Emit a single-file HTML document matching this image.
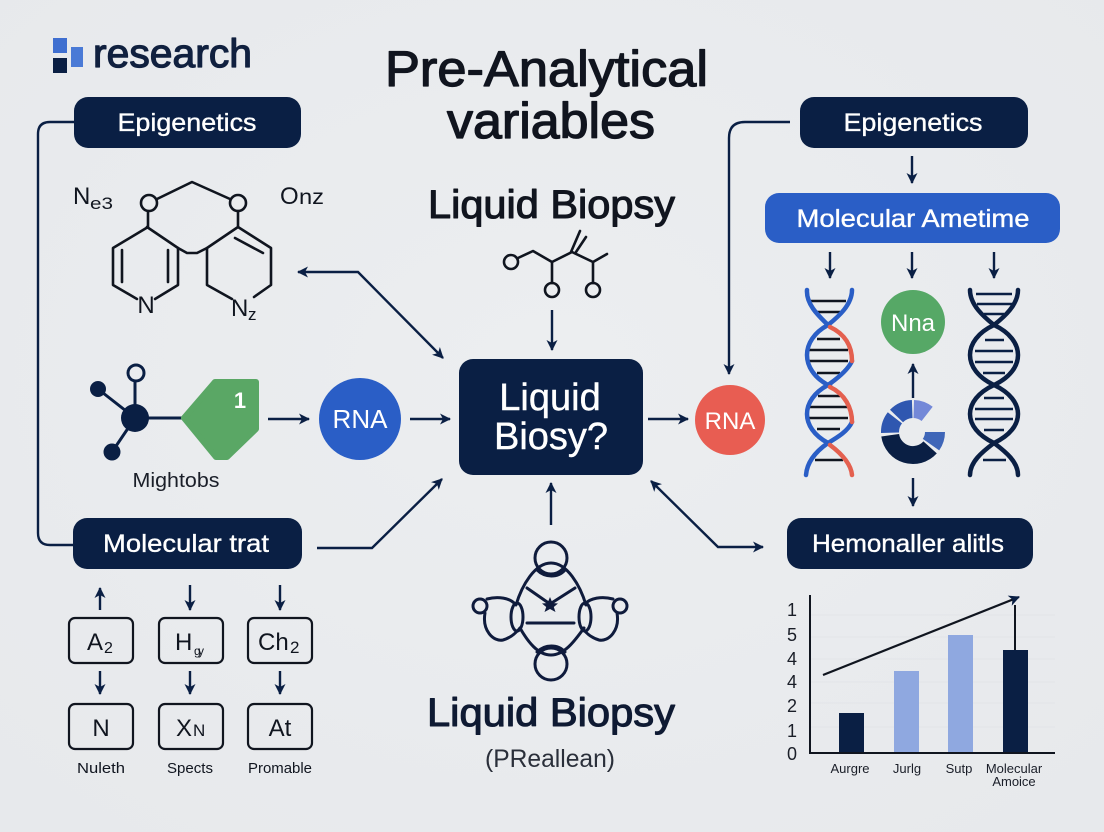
<!DOCTYPE html>
<html><head><meta charset="utf-8"><style>
html,body{margin:0;padding:0;background:#e9ebee}
svg{display:block}
text{font-family:"Liberation Sans",sans-serif}
.h{stroke-linejoin:round}
</style></head><body>
<svg width="1104" height="832" viewBox="0 0 1104 832" xmlns="http://www.w3.org/2000/svg">
<defs>
<marker id="a" markerUnits="userSpaceOnUse" markerWidth="16" markerHeight="16" refX="11" refY="8" orient="auto-start-reverse"><path d="M1,2.5 L12,8 L1,13.5 L4,8 Z" fill="#0a1f44"/></marker>
<radialGradient id="bg" cx="50%" cy="45%" r="70%"><stop offset="0" stop-color="#eceef0"/><stop offset="1" stop-color="#e7e9ec"/></radialGradient>
</defs>
<rect width="1104" height="832" fill="url(#bg)"/>

<!-- logo -->
<rect x="53" y="38" width="14" height="15" fill="#3f6fd0"/>
<rect x="53" y="58" width="14" height="15" fill="#0a1f44"/>
<rect x="71" y="47" width="12" height="20" fill="#4a7ad6"/>
<text class="h" x="93" y="67" font-size="40" fill="#10203f" stroke="#10203f" stroke-width="1.2" textLength="159" lengthAdjust="spacingAndGlyphs">research</text>

<!-- titles -->
<text class="h" x="385" y="86" font-size="50" fill="#11151f" stroke="#11151f" stroke-width="1.3" textLength="323" lengthAdjust="spacingAndGlyphs">Pre-Analytical</text>
<text class="h" x="447" y="138" font-size="50" fill="#11151f" stroke="#11151f" stroke-width="1.3" textLength="208" lengthAdjust="spacingAndGlyphs">variables</text>
<text class="h" x="428" y="218" font-size="40" fill="#11151f" stroke="#11151f" stroke-width="1.1" textLength="247" lengthAdjust="spacingAndGlyphs">Liquid Biopsy</text>
<text class="h" x="427" y="726" font-size="40" fill="#0f1a33" stroke="#0f1a33" stroke-width="1.1" textLength="248" lengthAdjust="spacingAndGlyphs">Liquid Biopsy</text>
<text x="485" y="767" font-size="25" fill="#2a2f3a" textLength="130" lengthAdjust="spacingAndGlyphs">(PReallean)</text>

<!-- connectors -->
<g fill="none" stroke="#0a1f44" stroke-width="2.4">
<path d="M74,122 H50 Q38,122 38,134 V533 Q38,545 50,545 H73"/>
<path d="M790,122 H745 Q729,122 729,138 V374" marker-end="url(#a)"/>
<path d="M298,272 H358 L443,358" marker-start="url(#a)" marker-end="url(#a)"/>
<path d="M317,548 H372 L442,479" marker-end="url(#a)"/>
<path d="M651,481 L718,547 H763" marker-start="url(#a)" marker-end="url(#a)"/>
<path d="M268,419 H309" marker-end="url(#a)"/>
<path d="M410,419 H450" marker-end="url(#a)"/>
<path d="M648,419 H688" marker-end="url(#a)"/>
<path d="M552,310 V350" marker-end="url(#a)"/>
<path d="M551,525 V483" marker-end="url(#a)"/>
<path d="M912,156 V183" marker-end="url(#a)"/>
<path d="M830,252 V278" marker-end="url(#a)"/>
<path d="M912,252 V278" marker-end="url(#a)"/>
<path d="M994,252 V278" marker-end="url(#a)"/>
<path d="M913,398 V364" marker-end="url(#a)"/>
<path d="M913,478 V506" marker-end="url(#a)"/>
<path d="M100,610 V588" marker-end="url(#a)"/>
<path d="M190,585 V610" marker-end="url(#a)"/>
<path d="M280,585 V610" marker-end="url(#a)"/>
<path d="M100,671 V694" marker-end="url(#a)"/>
<path d="M190,671 V694" marker-end="url(#a)"/>
<path d="M280,671 V694" marker-end="url(#a)"/>
</g>

<!-- pills -->
<g fill="#fff" stroke="#fff" stroke-width="0.35" font-size="25" text-anchor="middle">
<rect x="74" y="97" width="227" height="51" rx="14" fill="#0a1f44" stroke="none"/>
<text x="187" y="131" textLength="139" lengthAdjust="spacingAndGlyphs">Epigenetics</text>
<rect x="800" y="97" width="228" height="51" rx="14" fill="#0a1f44" stroke="none"/>
<text x="913" y="131" textLength="139" lengthAdjust="spacingAndGlyphs">Epigenetics</text>
<rect x="765" y="193" width="295" height="50" rx="14" fill="#2a5ec6" stroke="none"/>
<text x="913" y="227" textLength="233" lengthAdjust="spacingAndGlyphs">Molecular Ametime</text>
<rect x="73" y="518" width="229" height="51" rx="14" fill="#0a1f44" stroke="none"/>
<text x="186" y="552" textLength="166" lengthAdjust="spacingAndGlyphs">Molecular trat</text>
<rect x="787" y="518" width="246" height="51" rx="14" fill="#0a1f44" stroke="none"/>
<text x="908" y="552" textLength="192" lengthAdjust="spacingAndGlyphs">Hemonaller alitls</text>
</g>

<!-- center box -->
<rect x="459" y="359" width="184" height="116" rx="14" fill="#0a1f44"/>
<text x="550" y="410" font-size="38" fill="#fff" stroke="#fff" stroke-width="0.4" text-anchor="middle">Liquid</text>
<text x="551" y="449" font-size="38" fill="#fff" stroke="#fff" stroke-width="0.4" text-anchor="middle">Biosy?</text>

<!-- circles -->
<circle cx="360" cy="419" r="41" fill="#2a5ec6"/>
<text x="360" y="428" font-size="26" fill="#fff" text-anchor="middle">RNA</text>
<circle cx="730" cy="420" r="35" fill="#e85d52"/>
<text x="730" y="429" font-size="24" fill="#fff" text-anchor="middle">RNA</text>
<circle cx="913" cy="322" r="32" fill="#56a866"/>
<text x="913" y="331" font-size="24" fill="#fff" text-anchor="middle">Nna</text>

<!-- left molecule -->
<g fill="none" stroke="#10151f" stroke-width="2.6" stroke-linejoin="round" stroke-linecap="round">
<circle cx="149" cy="203" r="8"/><circle cx="238" cy="203" r="8"/>
<path d="M157,199 L192,182 L230,199"/>
<path d="M148,211 V227 L113,248 V285 L137,299"/>
<path d="M155,299 L178,285 V248 L147,227"/>
<path d="M178,248 L187,253 H197 L207,248 L238,227 V211"/>
<path d="M238,227 L271,248 V285 L254,297"/>
<path d="M207,248 V285 L232,299"/>
<path d="M122,250 V282 M168,250 V282 M235,238 L263,253"/>
</g>
<text x="146" y="313" font-size="24" fill="#10151f" text-anchor="middle">N</text>
<text x="231" y="316" font-size="24" fill="#10151f">N</text>
<text x="248" y="320" font-size="17" fill="#10151f">z</text>
<text x="73" y="204" font-size="24" fill="#10151f">N</text>
<text x="90" y="209" font-size="17" fill="#10151f" textLength="23" lengthAdjust="spacingAndGlyphs">e3</text>
<text x="280" y="204" font-size="24" fill="#10151f">O</text>
<text x="299" y="204" font-size="21" fill="#10151f" textLength="25" lengthAdjust="spacingAndGlyphs">nz</text>

<!-- small molecule -->
<g fill="none" stroke="#10151f" stroke-width="2.6" stroke-linecap="round" stroke-linejoin="round">
<circle cx="511" cy="262" r="7"/><circle cx="552" cy="290" r="7"/><circle cx="593" cy="290" r="7"/>
<path d="M518,258 L533,251 L552,262 L572,252 L593,262 L607,254"/>
<path d="M552,262 V283 M593,262 V283 M571,252 L580,231 M576,252 L586,237"/>
</g>

<!-- mighty molecule -->
<g stroke="#0a1f44" stroke-width="3" fill="none">
<path d="M135,418 L98,389 M135,418 L112,452 M135,418 V381 M135,418 H185"/>
<circle cx="136" cy="373" r="8"/>
</g>
<circle cx="135" cy="418" r="14" fill="#0a1f44"/>
<circle cx="98" cy="389" r="8" fill="#0a1f44"/>
<circle cx="112" cy="452" r="8.5" fill="#0a1f44"/>
<path d="M184,418 L215,382 H256 V429 L227,457 H216 Z" fill="#5aa765" stroke="#5aa765" stroke-width="6" stroke-linejoin="round"/>
<text x="240" y="408" font-size="22" font-weight="700" fill="#fff" text-anchor="middle">1</text>
<text x="176" y="487" font-size="20" fill="#1a1e28" text-anchor="middle" textLength="87" lengthAdjust="spacingAndGlyphs">Mightobs</text>

<!-- left boxes -->
<g fill="none" stroke="#10151f" stroke-width="2.2">
<rect x="69" y="618" width="64" height="45" rx="6"/><rect x="159" y="618" width="64" height="45" rx="6"/><rect x="248" y="618" width="64" height="45" rx="6"/>
<rect x="69" y="704" width="64" height="45" rx="6"/><rect x="159" y="704" width="64" height="45" rx="6"/><rect x="248" y="704" width="64" height="45" rx="6"/>
</g>
<g fill="#10151f">
<text x="87" y="650" font-size="24">A</text><text x="104" y="653" font-size="16">2</text>
<text x="175" y="650" font-size="24">H</text><text x="194" y="655" font-size="12">g</text><text x="198" y="655" font-size="12">y</text>
<text x="258" y="650" font-size="24">Ch</text><text x="290" y="653" font-size="17">2</text>
<text x="101" y="736" font-size="24" text-anchor="middle">N</text>
<text x="176" y="736" font-size="24">X</text><text x="193" y="736" font-size="17">N</text>
<text x="280" y="736" font-size="24" text-anchor="middle">At</text>
<text x="101" y="773" font-size="15" text-anchor="middle" textLength="48" lengthAdjust="spacingAndGlyphs">Nuleth</text>
<text x="190" y="773" font-size="15" text-anchor="middle" textLength="46" lengthAdjust="spacingAndGlyphs">Spects</text>
<text x="280" y="773" font-size="15" text-anchor="middle" textLength="64" lengthAdjust="spacingAndGlyphs">Promable</text>
</g>

<!-- left DNA -->
<g stroke="#10151f" stroke-width="2.4">
<path d="M810,301 H846 M817,312 H840 M817,339 H840 M809,350 H848 M809,361 H848 M817,373 H840 M818,396 H840 M809,407 H848 M809,418 H848 M817,429 H840 M815,460 H843"/>
</g>
<g fill="none" stroke-width="4.5" stroke-linecap="round">
<path d="M807,290 C806,305 820,317 828,325 C800,340 800,370 828,385 C800,400 800,428 828,443 C815,452 807,462 806,475" stroke="#2a5ec6"/>
<path d="M852,290 C852,305 838,317 828,325" stroke="#2a5ec6"/>
<path d="M852,361 C848,370 838,378 828,385 M852,422 C848,431 838,437 828,443" stroke="#2a5ec6"/>
<path d="M830,327 C845,334 852,346 852,361 M830,387 C845,394 852,408 852,422 M830,445 C842,454 851,464 852,475" stroke="#e4604f"/>
</g>

<!-- right DNA -->
<g stroke="#0a1f44" stroke-width="2.4">
<path d="M976,294 H1012 M977,304 H1012 M984,314 H1004 M985,340 H1004 M975,351 H1013 M975,362 H1013 M983,373 H1005 M984,398 H1004 M975,409 H1013 M975,419 H1013 M984,430 H1004 M983,460 H1006"/>
</g>
<g fill="none" stroke="#0a1f44" stroke-width="4.5" stroke-linecap="round">
<path d="M970,290 C970,305 984,317 994,325 C1026,340 1026,370 994,385 C1026,400 1026,428 994,443 C1006,452 1018,462 1018,475"/>
<path d="M1018,290 C1018,305 1004,317 994,325 C962,340 962,370 994,385 C962,400 962,428 994,443 C982,452 970,462 970,475"/>
</g>

<!-- donut -->
<path d="M914,400 A32,32 0 0 1 932.7,406.8 L921.6,421 A14,14 0 0 0 913.5,418 Z" fill="#7388d8"/>
<path d="M890,409.8 A32,32 0 0 1 911.9,400 L912.5,418 A14,14 0 0 0 903,422.3 Z" fill="#2f57b0"/>
<path d="M887.8,412.3 A32,32 0 0 0 881,433 L899,432.5 A14,14 0 0 1 902,423.4 Z" fill="#2f57b0"/>
<path d="M881.3,436.5 A32,32 0 0 0 936.8,453.4 L923.4,441.4 A14,14 0 0 1 899.1,434 Z" fill="#0a1f44"/>
<path d="M945,432 A32,32 0 0 1 939.2,450.4 L922.8,438.9 A12,12 0 0 0 925,432 Z" fill="#3f66b8"/>

<!-- bio shape -->
<g fill="none" stroke="#0f1b3c" stroke-width="3" stroke-linecap="round" stroke-linejoin="round">
<circle cx="551" cy="558" r="16"/><circle cx="551" cy="664" r="16"/>
<path d="M516,605 C522,585 535,563 551,563 C567,563 580,585 586,605"/>
<path d="M520,628 C528,642 538,655 551,655 C564,655 574,642 584,628"/>
<path d="M537,570 C545,578 558,578 565,570 M537,652 C545,644 558,644 565,652"/>
<ellipse cx="517" cy="617" rx="6" ry="14"/><ellipse cx="585" cy="617" rx="6" ry="14"/>
<path d="M527,588 L550,604 L575,588 M527,623 H574"/>
<circle cx="480" cy="606" r="7"/><circle cx="620" cy="606" r="7"/>
<path d="M487,599 C498,596 510,598 515,604 M485,613 C482,630 493,642 503,640 C510,638 516,633 520,628"/>
<path d="M613,599 C602,596 590,598 585,604 M617,613 C620,630 609,642 599,640 C592,638 586,633 582,628"/>
</g>
<path d="M550,597 L552.5,603 L558,603.5 L553.8,607 L555.5,612 L550,609 L544.5,612 L546.2,607 L542,603.5 L547.5,603 Z" fill="#0f1b3c"/>

<!-- chart -->
<g stroke="#e2e4e8" stroke-width="1">
<path d="M810,615 H1055 M810,637 H1055 M810,659 H1055 M810,682 H1055 M810,703 H1055 M810,727 H1055"/>
</g>
<rect x="839" y="713" width="25" height="40" fill="#0a1f44"/>
<rect x="894" y="671" width="25" height="82" fill="#8fa8e0"/>
<rect x="948" y="635" width="25" height="118" fill="#8fa8e0"/>
<rect x="1003" y="650" width="25" height="103" fill="#0a1f44"/>
<g fill="none" stroke="#10151f" stroke-width="2">
<path d="M810,595 V753 H1055"/>
<path d="M1015,605 V650"/>
<path d="M823,675 L1019,597" stroke-width="2.2" marker-end="url(#a)"/>
</g>
<g fill="#1a1e28" font-size="18" text-anchor="middle">
<text x="792" y="616">1</text><text x="792" y="641">5</text><text x="792" y="665">4</text><text x="792" y="688">4</text><text x="792" y="712">2</text><text x="792" y="737">1</text><text x="792" y="760">0</text>
</g>
<g fill="#1a1e28" font-size="13" text-anchor="middle">
<text x="850" y="773">Aurgre</text><text x="907" y="773">Jurlg</text><text x="959" y="773">Sutp</text><text x="1014" y="773">Molecular</text><text x="1014" y="786">Amoice</text>
</g>
</svg>
</body></html>
